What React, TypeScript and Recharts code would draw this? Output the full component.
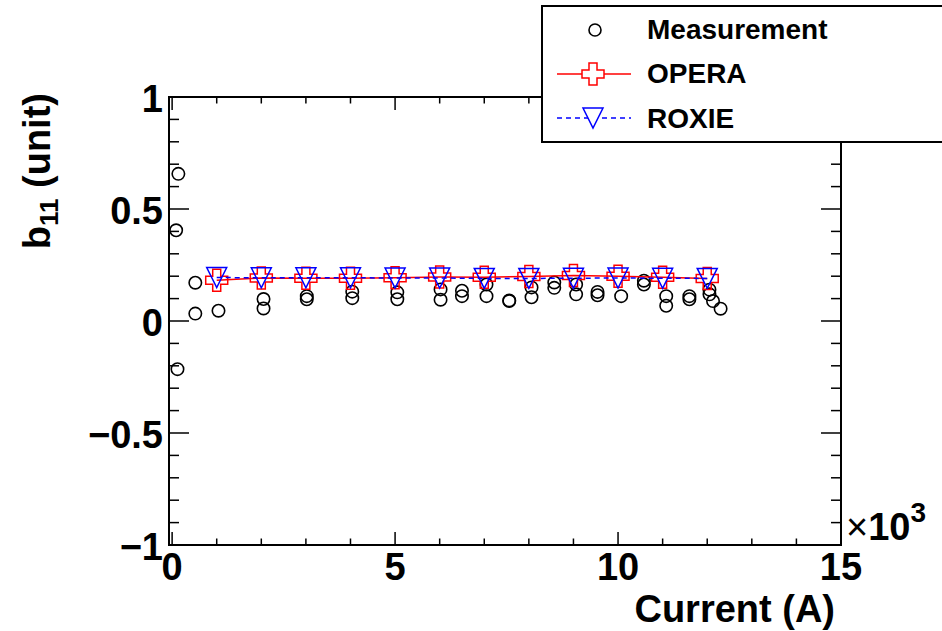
import { ReferenceArea, Scatter, ScatterChart, XAxis, YAxis } from "recharts";

// measurement points (current in A, b11 in units)
const measCurrent = [
  140, 90, 120, 520, 520, 1040, 2050, 2050, 3020, 3020, 4040, 4040, 5050, 5050,
  6020, 6020, 6500, 6500, 7050, 7050, 7560, 7560, 8060, 8060, 8570, 8570, 9060,
  9060, 9540, 9540, 10070, 10580, 10580, 11080, 11080, 11600, 11600, 12050,
  12050, 12130, 12300,
];
const measB11 = [
  0.657, 0.405, -0.215, 0.171, 0.033, 0.046, 0.098, 0.056, 0.111, 0.097, 0.131,
  0.102, 0.128, 0.097, 0.141, 0.095, 0.135, 0.111, 0.163, 0.111, 0.089, 0.092,
  0.15, 0.106, 0.172, 0.148, 0.163, 0.119, 0.13, 0.115, 0.111, 0.18, 0.163,
  0.111, 0.068, 0.111, 0.097, 0.14, 0.119, 0.089, 0.055,
];

// simulated values
const simCurrent = [1000, 2000, 3000, 4000, 5000, 6000, 7000, 8000, 9000, 10000, 11000, 12000];
const operaB11 = [0.182, 0.192, 0.191, 0.191, 0.193, 0.196, 0.195, 0.199, 0.203, 0.2, 0.195, 0.19];
const roxieB11 = [0.194, 0.193, 0.193, 0.193, 0.192, 0.192, 0.19, 0.19, 0.191, 0.192, 0.191, 0.19];

// axis ticks
const xTicks = [0, 1000, 2000, 3000, 4000, 5000, 6000, 7000, 8000, 9000, 10000, 11000, 12000, 13000, 14000, 15000];
const xMajorLabels: Record<number, string> = { 0: "0", 5000: "5", 10000: "10", 15000: "15" };
const yTicks = [-1, -0.9, -0.8, -0.7, -0.6, -0.5, -0.4, -0.3, -0.2, -0.1, 0, 0.1, 0.2, 0.3, 0.4, 0.5, 0.6, 0.7, 0.8, 0.9, 1];
const yMajorLabels: Record<string, string> = { "1": "1", "0.5": "0.5", "0": "0", "-0.5": "\u22120.5", "-1": "\u22121" };

const measData = measCurrent.map((x, i) => ({ x, y: measB11[i] }));
const operaData = simCurrent.map((x, i) => ({ x, y: operaB11[i] }));
const roxieData = simCurrent.map((x, i) => ({ x, y: roxieB11[i] }));

// plot frame (pixels)
const LEFT = 169;
const RIGHT = 841;
const TOP = 97;
const BOTTOM = 545;

const FONT = "'Liberation Sans', Arial, Helvetica, sans-serif";

const crossPath = (cx: number, cy: number, s = 11, t = 4) =>
  `M${cx - t},${cy - s}H${cx + t}V${cy - t}H${cx + s}V${cy + t}H${cx + t}V${cy + s}H${cx - t}V${cy + t}H${cx - s}V${cy - t}H${cx - t}Z`;
const triPath = (cx: number, cy: number, s = 10) =>
  `M${cx - s},${cy - s}H${cx + s}L${cx},${cy + s}Z`;

const renderCircle = (p: any) => (
  <circle cx={p.cx} cy={p.cy} r={6.2} fill="none" stroke="#000" strokeWidth={1.6} />
);
const renderCross = (p: any) => (
  <path d={crossPath(p.cx, p.cy)} fill="none" stroke="#ff0000" strokeWidth={1.5} />
);
const renderTri = (p: any) => (
  <path d={triPath(p.cx, p.cy)} fill="none" stroke="#0000ff" strokeWidth={1.5} />
);

const renderXTick = (p: any) => {
  const v = p.payload.value;
  const label = xMajorLabels[v];
  const len = label !== undefined ? 13 : 6.5;
  return (
    <g>
      <line x1={p.x} x2={p.x} y1={BOTTOM} y2={BOTTOM - len} stroke="#000" strokeWidth={1.5} />
      <line x1={p.x} x2={p.x} y1={TOP} y2={TOP + len} stroke="#000" strokeWidth={1.5} />
      {label !== undefined && (
        <text x={p.x} y={580} textAnchor="middle" fontFamily={FONT} fontWeight="bold" fontSize={38} fill="#000">
          {label}
        </text>
      )}
    </g>
  );
};

const renderYTick = (p: any) => {
  const v = Math.round(p.payload.value * 10) / 10;
  const label = yMajorLabels[String(v)];
  const len = label !== undefined ? 20 : 10;
  return (
    <g>
      <line x1={LEFT} x2={LEFT + len} y1={p.y} y2={p.y} stroke="#000" strokeWidth={1.5} />
      <line x1={RIGHT} x2={RIGHT - len} y1={p.y} y2={p.y} stroke="#000" strokeWidth={1.5} />
      {label !== undefined && (
        <text x={163} y={p.y + 15} textAnchor="end" fontFamily={FONT} fontWeight="bold" fontSize={38} fill="#000">
          {label}
        </text>
      )}
    </g>
  );
};

export default function App() {
  return (
    <div style={{ position: "fixed", left: 0, top: 0, width: 942, height: 631, background: "#fff" }}>
      <ScatterChart
        width={942}
        height={631}
        margin={{ top: TOP, right: 942 - RIGHT, left: LEFT - 60, bottom: 631 - BOTTOM - 40 }}
      >
        <XAxis
          type="number"
          dataKey="x"
          domain={[-70, 15000]}
          ticks={xTicks}
          interval={0}
          height={40}
          tick={renderXTick}
          tickLine={false}
          axisLine={false}
          allowDataOverflow
        />
        <YAxis
          type="number"
          dataKey="y"
          domain={[-1, 1]}
          ticks={yTicks}
          interval={0}
          width={60}
          tick={renderYTick}
          tickLine={false}
          axisLine={false}
          allowDataOverflow
        />
        <ReferenceArea x1={-70} x2={15000} y1={-1} y2={1} fill="none" stroke="#000" strokeWidth={2} />
        <Scatter name="Measurement" data={measData} shape={renderCircle} isAnimationActive={false} />
        <Scatter
          name="OPERA"
          data={operaData}
          line={{ stroke: "#ff0000", strokeWidth: 1.5 }}
          lineType="joint"
          shape={renderCross}
          isAnimationActive={false}
        />
        <Scatter
          name="ROXIE"
          data={roxieData}
          line={{ stroke: "#0000ff", strokeWidth: 1.5, strokeDasharray: "5 4" }}
          lineType="joint"
          shape={renderTri}
          isAnimationActive={false}
        />
      </ScatterChart>

      {/* titles and legend */}
      <svg
        width={942}
        height={631}
        style={{ position: "absolute", left: 0, top: 0, pointerEvents: "none" }}
        fontFamily={FONT}
      >
        <text transform="translate(50,93) rotate(-90)" textAnchor="end" fontWeight="bold" fontSize={38} fill="#000">
          b
          <tspan fontSize={26} dy={8}>11</tspan>
          <tspan dy={-8}> (unit)</tspan>
        </text>
        <text x={835} y={622} textAnchor="end" fontWeight="bold" fontSize={38} fill="#000">
          Current (A)
        </text>
        <text x={846} y={540} fontSize={38} fill="#000">
          ×<tspan fontWeight="bold">10</tspan>
          <tspan fontWeight="bold" fontSize={28} dy={-18}>3</tspan>
        </text>

        <rect x={542} y={6} width={420} height={136} fill="#fff" stroke="#000" strokeWidth={2} />
        <circle cx={595} cy={30} r={6} fill="none" stroke="#000" strokeWidth={1.6} />
        <text x={647} y={39} fontWeight="bold" fontSize={28} fill="#000">Measurement</text>

        <line x1={557} x2={631} y1={74} y2={74} stroke="#ff0000" strokeWidth={1.5} />
        <path d={crossPath(593, 74)} fill="#fff" stroke="#ff0000" strokeWidth={1.5} />
        <text x={647} y={83} fontWeight="bold" fontSize={28} fill="#000">OPERA</text>

        <line x1={557} x2={631} y1={118} y2={118} stroke="#0000ff" strokeWidth={1.5} strokeDasharray="5 4" />
        <path d={triPath(593, 118)} fill="#fff" stroke="#0000ff" strokeWidth={1.5} />
        <text x={647} y={128} fontWeight="bold" fontSize={28} fill="#000">ROXIE</text>
      </svg>
    </div>
  );
}
